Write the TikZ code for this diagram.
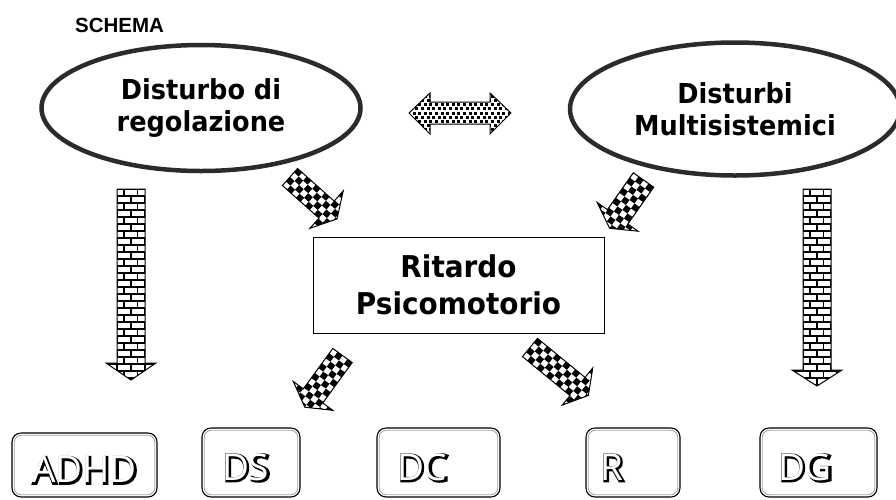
\documentclass[tikz,border=0pt]{standalone}
\usepackage{fontspec}
\usetikzlibrary{shapes.geometric}
\setmainfont{DejaVu Sans}
\newfontfamily\boldf[FakeStretch=0.93]{DejaVu Sans}
\newfontfamily\titlef{Liberation Sans}
\newfontfamily\boxf{Open Sans}
\newfontfamily\boxfo[FakeBold=7]{Open Sans}
\definecolor{ellcol}{HTML}{2B2B2B}
\newcommand\outltext[1]{%
 \makebox[0pt][l]{\hspace*{1.1pt}\raisebox{-1.1pt}{\boxfo #1}}%
 \textcolor{white}{#1}}
% checkered block arrow: x, y (tail centre), canvas angle, length, half shaft, half head
\newcommand\checkarrow[6]{%
 \begin{scope}[shift={(#1,#2)},rotate=#3]
  \begin{scope}
   \clip (0,-#5) -- (#4-14,-#5) -- (#4-14,-#6) -- (#4,0) -- (#4-14,#6) -- (#4-14,#5) -- (0,#5) -- cycle;
   \foreach \i in {0,...,14}{\foreach \j in {-5,...,4}{%
     \pgfmathtruncatemacro\k{mod(\i+\j+20,2)}%
     \ifnum\k=0 \fill (\i*6.1,\j*6.1) rectangle ++(6.1,6.1);\fi}}
  \end{scope}
  \draw[blockline] (0,-#5) -- (#4-14,-#5) -- (#4-14,-#6) -- (#4,0) -- (#4-14,#6) -- (#4-14,#5) -- (0,#5) -- cycle;
 \end{scope}}
% brick block arrow: centre x, top, head base, tip
\newcommand\brickarrow[4]{%
 \begin{scope}
  \clip (#1-14,#2) -- (#1+14,#2) -- (#1+14,#3) -- (#1+25,#3) -- (#1,#4) -- (#1-25,#3) -- (#1-14,#3) -- cycle;
  \foreach \r in {0,...,29}{%
    \draw[brickline] (#1-26,#2+\r*7) -- (#1+26,#2+\r*7);
    \pgfmathtruncatemacro\k{mod(\r,2)}%
    \ifnum\k=0
      \draw[brickline] (#1-7,#2+\r*7) -- (#1-7,#2+\r*7+7);
      \draw[brickline] (#1+6.5,#2+\r*7) -- (#1+6.5,#2+\r*7+7);
      \draw[brickline] (#1-20.5,#2+\r*7) -- (#1-20.5,#2+\r*7+7);
      \draw[brickline] (#1+20,#2+\r*7) -- (#1+20,#2+\r*7+7);
    \else
      \draw[brickline] (#1,#2+\r*7) -- (#1,#2+\r*7+7);
      \draw[brickline] (#1-14,#2+\r*7) -- (#1-14,#2+\r*7+7);
      \draw[brickline] (#1+14,#2+\r*7) -- (#1+14,#2+\r*7+7);
    \fi}
 \end{scope}
 \draw[blockline] (#1-14,#2) -- (#1+14,#2) -- (#1+14,#3) -- (#1+25,#3) -- (#1,#4) -- (#1-25,#3) -- (#1-14,#3) -- cycle;}
\begin{document}
\begin{tikzpicture}[x=1pt,y=-1pt,
  blockline/.style={line width=1pt,line join=miter},
  brickline/.style={line width=1.4pt},
  ellnode/.style={ellipse,draw=ellcol,line width=4.5pt,align=center,
     font=\boldf\bfseries\fontsize{27.5}{32.5}\selectfont},
  centerbox/.style={draw,line width=1pt,align=center,minimum width=291pt,minimum height=96pt,
     font=\boldf\bfseries\fontsize{30}{37}\selectfont},
  leafbox/.style={draw,line width=1.1pt,rounded corners=9pt,inner ysep=0pt,align=left,
     text height=35pt,text depth=0pt,font=\boxf\fontsize{37}{37}\selectfont}]
\useasboundingbox (0,0) rectangle (896,499);
\fill[white] (0,0) rectangle (896,499);

\node[anchor=base west,font=\titlef\bfseries\fontsize{20.5}{24}\selectfont,inner sep=0pt] (title) at (75,32) {SCHEMA};

\node[ellnode,minimum width=319pt,minimum height=126pt] (reg) at (201,108) {Disturbo di\\regolazione};
\node[ellnode,minimum width=330pt,minimum height=133pt] (mult) at (735,109) {Disturbi\\Multisistemici};

\node[centerbox] (rit) at (458.5,285) {Ritardo\\Psicomotorio};

% double arrow with dotted fill
\begin{scope}
 \clip (409,113) -- (430,93) -- (430,102) -- (490,102) -- (490,93) -- (511,113) -- (490,134) -- (490,124) -- (430,124) -- (430,134) -- cycle;
 \foreach \i in {0,...,19}{\foreach \j in {-6,...,6}{%
   \pgfmathtruncatemacro\k{mod(\j+20,2)}%
   \fill (407+\i*5.6+\k*2.8,111.5+\j*4.2) rectangle ++(3,3);}}
\end{scope}
\draw[blockline] (409,113) -- (430,93) -- (430,102) -- (490,102) -- (490,93) -- (511,113) -- (490,134) -- (490,124) -- (430,124) -- (430,134) -- cycle;

% brick arrows
\brickarrow{131}{189}{363}{380}
\brickarrow{817}{189}{370}{386}

% checkered arrows
\checkarrow{290}{177}{-41.7}{63}{11.4}{25}
\checkarrow{643.5}{180}{-125.1}{59}{12.5}{25}
\checkarrow{342.5}{355.5}{-126.1}{64}{12}{24.4}
\checkarrow{530}{347.5}{-39.4}{75.5}{11.8}{24}

% leaf boxes (width = text width + 2 inner xsep)
\node[leafbox,minimum height=64pt,inner xsep=20pt,text width=105pt] (adhd) at (84.5,465) {\outltext{ADHD}};
\node[leafbox,minimum height=69pt,inner xsep=20pt,text width=58pt] (ds) at (251,462.5) {\outltext{DS}};
\node[leafbox,minimum height=69pt,inner xsep=20pt,text width=83pt] (dc) at (438.5,462.5) {\outltext{DC}};
\node[leafbox,minimum height=69pt,inner xsep=14pt,text width=66pt] (r) at (633,462.5) {\outltext{R}};
\node[leafbox,minimum height=69pt,inner xsep=18pt,text width=81pt] (dg) at (818.5,462.5) {\outltext{DG}};
\foreach \n in {adhd,ds,dc,r,dg}{
  \draw[gray!70,line width=0.9pt,rounded corners=7pt]
    ([shift={(2.8,2.8)}]\n.north west) rectangle ([shift={(-2.8,-2.8)}]\n.south east);
}
\end{tikzpicture}
\end{document}
